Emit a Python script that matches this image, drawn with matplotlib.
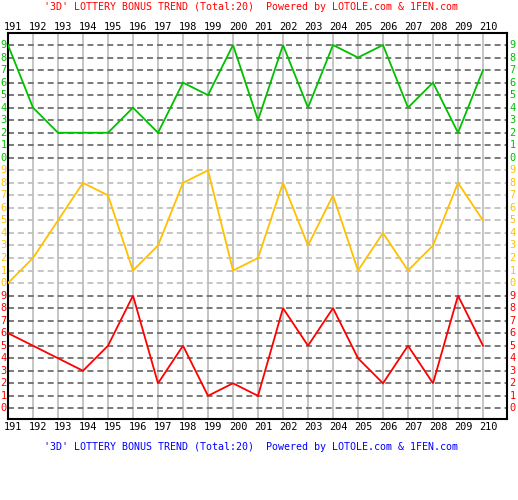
import matplotlib
matplotlib.use("Agg")
import matplotlib.pyplot as plt
import matplotlib.transforms as mtransforms

# draw numbers 191..210 and the three bonus digits per draw
periods = [191, 192, 193, 194, 195, 196, 197, 198, 199, 200,
           201, 202, 203, 204, 205, 206, 207, 208, 209, 210]
green_digits = [9, 4, 2, 2, 2, 4, 2, 6, 5, 9, 3, 9, 4, 9, 8, 9, 4, 6, 2, 7]
orange_digits = [0, 2, 5, 8, 7, 1, 3, 8, 9, 1, 2, 8, 3, 7, 1, 4, 1, 3, 8, 5]
red_digits = [6, 5, 4, 3, 5, 9, 2, 5, 1, 2, 1, 8, 5, 8, 4, 2, 5, 2, 9, 5]
digits = [0, 1, 2, 3, 4, 5, 6, 7, 8, 9]

title_top = "'3D' LOTTERY BONUS TREND (Total:20)  Powered by LOTOLE.com & 1FEN.com"

GREEN = "#00c000"
ORANGE = "#ffc000"
RED = "#ff0000"
MONO = "DejaVu Sans Mono"

W, H = 518, 500
fig = plt.figure(figsize=(W / 100, H / 100), dpi=100)
fig.patch.set_facecolor("white")

# plot box in pixels: left 8, right 507, top 33, bottom 419
left, right, top, bottom = 8, 507, 33, 419
ax = fig.add_axes([left / W, (H - bottom) / H, (right - left) / W, (bottom - top) / H])

# bands: red 0-9, orange 10-19, green 20-29
bands = [(red_digits, 0, RED), (orange_digits, 10, ORANGE), (green_digits, 20, GREEN)]

ax.set_xlim(191, 191 + (right - left) / 25)
ax.set_ylim(-0.85, 29.96)

# vertical grid
for p in periods:
    ax.axvline(p, color="#c0c0c0", lw=1.3, zorder=1)

# horizontal dashed grid
for vals, off, col in bands:
    gcol = "#c0c0c0" if off == 10 else "#707070"
    for d in digits:
        ax.axhline(off + d, color=gcol, lw=1.3, ls=(0, (3.3, 2.2)), zorder=2)

# trend lines
for vals, off, col in bands:
    ax.plot(periods, [v + off for v in vals], color=col, lw=1.3, zorder=3,
            solid_joinstyle="miter")

ax.set_xticks([])
ax.set_yticks([])
for s in ax.spines.values():
    s.set_color("black")
    s.set_linewidth(1.5)

# y labels on both sides
tl = mtransforms.blended_transform_factory(fig.transFigure, ax.transData)
for vals, off, col in bands:
    for d in digits:
        ax.text(3.5 / W, off + d, str(d), transform=tl, color=col, fontsize=7.4,
                family=MONO, ha="center", va="center", clip_on=False)
        ax.text(512.5 / W, off + d, str(d), transform=tl, color=col, fontsize=7.4,
                family=MONO, ha="center", va="center", clip_on=False)

# x labels top and bottom
tx = mtransforms.blended_transform_factory(ax.transData, fig.transFigure)
for p in periods:
    ax.text(p + 0.2, 1 - 27 / H, str(p), transform=tx, fontsize=7.4, family=MONO,
            ha="center", va="center", color="black", clip_on=False)
    ax.text(p + 0.2, 1 - 426.5 / H, str(p), transform=tx, fontsize=7.4, family=MONO,
            ha="center", va="center", color="black", clip_on=False)

fig.text(251.5 / W, 1 - 7 / H, title_top, color=RED, fontsize=7.2, family=MONO,
         ha="center", va="center")
fig.text(251.5 / W, 1 - 447 / H, title_top, color="#0000ff", fontsize=7.2, family=MONO,
         ha="center", va="center")

fig.savefig("out.png", dpi=100)
